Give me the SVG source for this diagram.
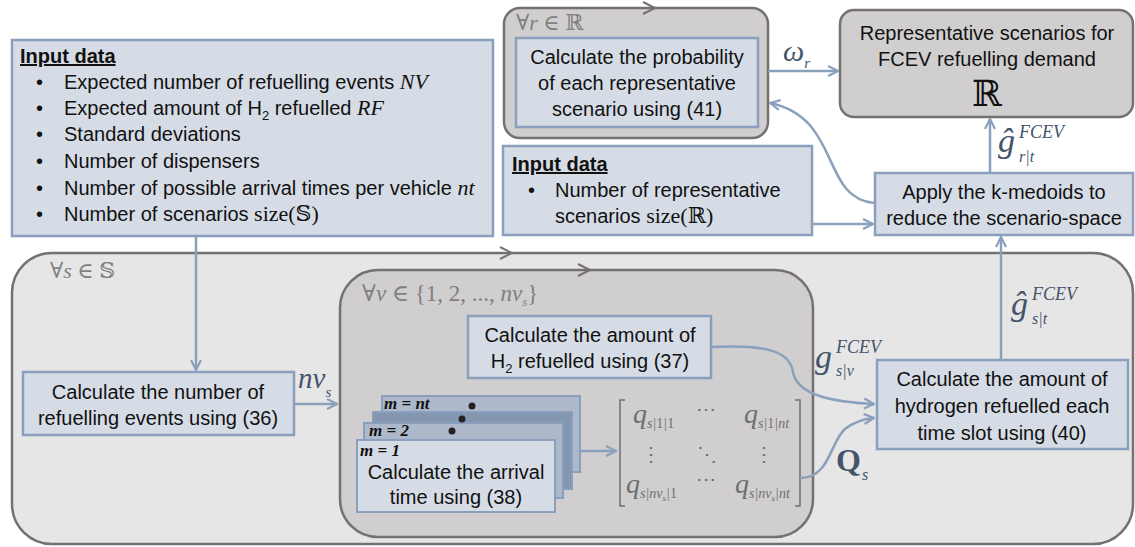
<svg xmlns="http://www.w3.org/2000/svg" width="1135" height="547" viewBox="0 0 1135 547">
  <defs>
    <marker id="arr" viewBox="0 0 12 12" refX="11" refY="6" markerWidth="12" markerHeight="12" markerUnits="userSpaceOnUse" orient="auto">
      <path d="M1,1 L11,6 L1,11" fill="none" stroke="#8aa0bd" stroke-width="2.2"/>
    </marker>
    <style>
      .box { fill: #d6dce5; stroke: #8a9fbd; stroke-width: 2.5; }
      .loop-dark { fill: #d0cece; stroke: #767171; stroke-width: 2.5; }
      .loop-light { fill: #e7e6e6; stroke: #767171; stroke-width: 2.5; }
      .card { stroke: #8a9fbd; stroke-width: 2; }
      .conn { fill: none; stroke: #8aa0bd; stroke-width: 2.5; }
      .chev { fill: none; stroke: #767171; stroke-width: 2; }
      .t { font-family: "Liberation Sans", Arial, sans-serif; font-size: 20px; fill: #111; }
      .c { text-anchor: middle; }
      .hdr { font-weight: bold; text-decoration: underline; }
      .m { font-family: "Liberation Serif", "DejaVu Serif", serif; }
      .it { font-style: italic; }
      .up { font-style: normal; }
      .gray { fill: #7f7f7f; }
      .lab { fill: #44546a; }
      .mat { font-family: "Liberation Serif", "DejaVu Serif", serif; fill: #6f6f6f; }
      .mlab { font-family: "Liberation Serif", serif; font-weight: bold; font-style: italic; font-size: 17px; fill: #111; }
    </style>
  </defs>

  <!-- outer loop over scenarios -->
  <g id="loop-s">
    <rect class="loop-light" x="12" y="253" width="1121" height="291" rx="40"/>
    <polyline class="chev" points="500,247 512,253 500,259"/>
    <text class="m gray" x="50" y="278" font-size="22">∀<tspan class="it">s</tspan> ∈ 𝕊</text>
  </g>

  <!-- inner loop over vehicles -->
  <g id="loop-v">
    <rect class="loop-dark" x="340" y="270" width="473" height="267" rx="38"/>
    <polyline class="chev" points="578,264 590,270 578,276"/>
    <text class="m gray" x="362" y="301" font-size="23">∀<tspan class="it">v</tspan> ∈ {1, 2, ..., <tspan class="it">nv</tspan><tspan font-size="13" dy="5" class="it">s</tspan><tspan dy="-5">}</tspan></text>
  </g>

  <!-- loop over representative scenarios -->
  <g id="loop-r">
    <rect class="loop-dark" x="504" y="8" width="264" height="130" rx="16"/>
    <polyline class="chev" points="643,2 655,8 643,14"/>
    <text class="m gray" x="516" y="30" font-size="22">∀<tspan class="it">r</tspan> ∈ ℝ</text>
  </g>

  <g id="input-data">
    <rect class="box" x="12" y="40" width="481" height="196"/>
    <text class="t hdr" x="20" y="63">Input data</text>
    <g class="t">
      <text x="36" y="89">•</text>
      <text x="64" y="89">Expected number of refuelling events <tspan class="m it" font-size="22">NV</tspan></text>
      <text x="36" y="115">•</text>
      <text x="64" y="115">Expected amount of H<tspan font-size="13" dy="5">2</tspan><tspan dy="-5"> refuelled </tspan><tspan class="m it" font-size="22">RF</tspan></text>
      <text x="36" y="141">•</text>
      <text x="64" y="141">Standard deviations</text>
      <text x="36" y="168">•</text>
      <text x="64" y="168">Number of dispensers</text>
      <text x="36" y="195">•</text>
      <text x="64" y="195">Number of possible arrival times per vehicle <tspan class="m it" font-size="22">nt</tspan></text>
      <text x="36" y="221">•</text>
      <text x="64" y="221">Number of scenarios <tspan class="m" font-size="22">size(𝕊)</tspan></text>
    </g>
  </g>

  <g id="calc-probability">
    <rect class="box" x="516" y="38" width="242" height="89"/>
    <text class="t c" x="637" y="64">Calculate the probability</text>
    <text class="t c" x="637" y="90">of each representative</text>
    <text class="t c" x="637" y="116">scenario using (41)</text>
  </g>

  <g id="input-data-r">
    <rect class="box" x="503" y="146" width="309" height="89"/>
    <text class="t hdr" x="512" y="171">Input data</text>
    <text class="t" x="528" y="197">•</text>
    <text class="t" x="555" y="197">Number of representative</text>
    <text class="t" x="555" y="223">scenarios <tspan class="m" font-size="22">size(ℝ)</tspan></text>
  </g>

  <g id="representative-scenarios">
    <rect class="loop-dark" x="840" y="10" width="293" height="107" rx="14"/>
    <text class="t c" x="987" y="40">Representative scenarios for</text>
    <text class="t c" x="987" y="66">FCEV refuelling demand</text>
    <text class="m c" x="987" y="106" font-size="36" fill="#111">ℝ</text>
  </g>

  <g id="k-medoids">
    <rect class="box" x="875" y="173" width="258" height="62"/>
    <text class="t c" x="1004" y="199">Apply the k-medoids to</text>
    <text class="t c" x="1004" y="225">reduce the scenario-space</text>
  </g>

  <g id="calc-events">
    <rect class="box" x="23" y="372" width="271" height="63"/>
    <text class="t c" x="158" y="399">Calculate the number of</text>
    <text class="t c" x="158" y="425">refuelling events using (36)</text>
  </g>

  <g id="calc-h2">
    <rect class="box" x="468" y="316" width="243" height="62"/>
    <text class="t c" x="590" y="342">Calculate the amount of</text>
    <text class="t c" x="590" y="368">H<tspan font-size="13" dy="5">2</tspan><tspan dy="-5"> refuelled using (37)</tspan></text>
  </g>

  <!-- stacked cards, one per possible arrival time -->
  <g id="calc-arrival">
    <rect class="card" fill="#adb9ca" x="382" y="396" width="198" height="76"/>
    <rect class="card" fill="#8497b0" x="373" y="412" width="199" height="77"/>
    <rect class="card" fill="#adb9ca" x="364" y="423" width="199" height="75"/>
    <rect class="card" fill="#d6dce5" x="357" y="440" width="198" height="72"/>
    <text class="mlab" x="384" y="409">m = nt</text>
    <circle cx="472" cy="406" r="3.5" fill="#222"/>
    <circle cx="462" cy="419" r="3.5" fill="#222"/>
    <text class="mlab" x="369" y="436">m = 2</text>
    <circle cx="452" cy="431" r="3.5" fill="#222"/>
    <text class="mlab" x="360" y="456">m = 1</text>
    <text class="t c" x="456" y="479">Calculate the arrival</text>
    <text class="t c" x="456" y="504">time using (38)</text>
  </g>

  <!-- arrival-time matrix Q_s -->
  <g id="matrix-q">
    <path d="M625,400 L620,400 L620,506 L625,506" fill="none" stroke="#6f6f6f" stroke-width="1.5"/>
    <path d="M795,400 L800,400 L800,506 L795,506" fill="none" stroke="#6f6f6f" stroke-width="1.5"/>
    <text class="mat it" x="633" y="423" font-size="28">q<tspan font-size="14" dy="5">s|<tspan class="up">1</tspan>|<tspan class="up">1</tspan></tspan></text>
    <text class="mat" x="706" y="416" font-size="20" text-anchor="middle">⋯</text>
    <text class="mat it" x="744" y="423" font-size="28">q<tspan font-size="14" dy="5">s|<tspan class="up">1</tspan>|nt</tspan></text>
    <text class="mat" x="651" y="461" font-size="20" text-anchor="middle">⋮</text>
    <text class="mat" x="707" y="461" font-size="20" text-anchor="middle">⋱</text>
    <text class="mat" x="764" y="461" font-size="20" text-anchor="middle">⋮</text>
    <text class="mat it" x="626" y="493" font-size="28">q<tspan font-size="14" dy="5">s|nv</tspan><tspan font-size="9" dy="3">s</tspan><tspan font-size="14" dy="-3">|<tspan class="up">1</tspan></tspan></text>
    <text class="mat" x="706" y="486" font-size="20" text-anchor="middle">⋯</text>
    <text class="mat it" x="735" y="493" font-size="28">q<tspan font-size="14" dy="5">s|nv</tspan><tspan font-size="9" dy="3">s</tspan><tspan font-size="14" dy="-3">|nt</tspan></text>
  </g>

  <g id="calc-hourly">
    <rect class="box" x="877" y="360" width="251" height="89"/>
    <text class="t c" x="1002" y="386">Calculate the amount of</text>
    <text class="t c" x="1002" y="413">hydrogen refuelled each</text>
    <text class="t c" x="1002" y="440">time slot using (40)</text>
  </g>

  <g id="connectors">
    <path class="conn" d="M196,236 L196,370" marker-end="url(#arr)"/>
    <path class="conn" d="M294,404 L337,404" marker-end="url(#arr)"/>
    <path class="conn" d="M580,451 L616,451" marker-end="url(#arr)"/>
    <path class="conn" d="M711,347 C768,344 790,352 793,372 C797,396 835,402 874,404" marker-end="url(#arr)"/>
    <path class="conn" d="M800,478 C830,478 830,442 845,429 C855,421 864,419 874,418" marker-end="url(#arr)"/>
    <path class="conn" d="M1001,360 L1001,237" marker-end="url(#arr)"/>
    <path class="conn" d="M812,224 L873,224" marker-end="url(#arr)"/>
    <path class="conn" d="M990,173 L990,119" marker-end="url(#arr)"/>
    <path class="conn" d="M874,203 C820,198 842,118 770,103" marker-end="url(#arr)"/>
    <path class="conn" d="M768,71 L838,71" marker-end="url(#arr)"/>

    <!-- connector labels -->
    <text class="m it lab" x="298" y="388" font-size="29">nv<tspan font-size="15" dy="9">s</tspan></text>
    <text class="m it lab" x="783" y="61" font-size="30">ω<tspan font-size="15" dy="7">r</tspan></text>
    <text class="m it lab" x="815" y="368" font-size="34">g</text>
    <text class="m it lab" x="836" y="353" font-size="18">FCEV</text>
    <text class="m it lab" x="836" y="376" font-size="16">s|v</text>
    <text class="m lab" x="836" y="471" font-size="32" font-weight="bold">Q</text>
    <text class="m it lab" x="862" y="480" font-size="16">s</text>
    <text class="m it lab" x="998" y="152" font-size="34">ĝ</text>
    <text class="m it lab" x="1019" y="138" font-size="18">FCEV</text>
    <text class="m it lab" x="1019" y="162" font-size="16">r|t</text>
    <text class="m it lab" x="1011" y="315" font-size="34">ĝ</text>
    <text class="m it lab" x="1032" y="300" font-size="18">FCEV</text>
    <text class="m it lab" x="1032" y="324" font-size="16">s|t</text>
  </g>
</svg>
